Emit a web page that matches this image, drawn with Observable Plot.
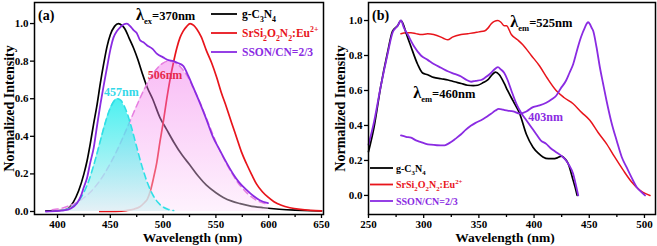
<!DOCTYPE html>
<html><head><meta charset="utf-8">
<script src="https://cdn.jsdelivr.net/npm/d3@7"></script>
<script src="https://cdn.jsdelivr.net/npm/@observablehq/plot@0.6"></script>
<style>
body{margin:0;background:#fff;}
#wrap{display:flex;width:657px;height:246px;overflow:hidden;}
</style></head><body><div id="wrap"></div>
<script>
// ---------- tick labels ----------
const aXTicks = [400, 450, 500, 550, 600, 650];
const aXMinor = [425, 475, 525, 575, 625];
const bXTicks = [250, 300, 350, 400, 450, 500];
const bXMinor = [275, 325, 375, 425, 475];
const yTicks = [0, 0.2, 0.4, 0.6, 0.8, 1.0];
const legendLabels = ["g-C_{3}N_{4}", "SrSi_{2}O_{2}N_{2}:Eu^{2+}", "SSON/CN=2/3"];
const seriesColors = ["#000000", "#e8141b", "#8a2be2"];

// ---------- panel (a): emission spectra, lambda_ex = 370 nm ----------
const aCN = [[389,0.004],[400,0.005],[406,0.008],[410,0.016],[415,0.05],[420,0.11],[425,0.2],[428,0.27],[431,0.36],[434,0.46],[437.5,0.57],[440.5,0.68],[443.7,0.785],[447,0.88],[450,0.94],[454,0.985],[457.8,1.0],[461,0.99],[464,0.97],[468,0.92],[472,0.87],[476,0.81],[480,0.74],[485,0.66],[490,0.6],[497,0.5],[503,0.44],[510,0.37],[518,0.3],[525,0.25],[533,0.19],[541,0.14],[550,0.1],[557,0.075],[565,0.055],[573,0.042],[582,0.03],[595,0.02],[610,0.012],[625,0.007],[640,0.004],[650,0.003]];
const aSSON = [[440,0.0],[455,0.001],[465,0.005],[472,0.012],[478,0.025],[482,0.045],[485,0.065],[488,0.11],[491,0.18],[494,0.26],[497,0.37],[500,0.47],[503.5,0.6],[506.5,0.7],[509.7,0.79],[513,0.87],[516,0.925],[519,0.96],[522.4,0.985],[525.5,1.0],[529,0.99],[532,0.97],[536,0.93],[541,0.856],[546,0.79],[550.7,0.714],[555,0.635],[560,0.555],[565,0.47],[569.5,0.395],[574,0.32],[579,0.254],[584,0.195],[588.4,0.147],[594,0.105],[599.4,0.076],[605,0.052],[612,0.033],[620,0.02],[630,0.011],[640,0.006],[650,0.003]];
const aMix = [[389,0.0],[400,0.003],[406,0.006],[412,0.015],[418.6,0.045],[422,0.08],[425,0.13],[428,0.18],[431,0.26],[434.3,0.34],[437,0.44],[440.6,0.57],[443.7,0.67],[446.9,0.767],[450,0.86],[453,0.925],[456.3,0.96],[459.4,0.98],[462.5,0.995],[465.7,1.0],[469,0.985],[472,0.965],[475,0.95],[478.3,0.91],[481.4,0.9],[484.6,0.885],[490,0.865],[494,0.84],[500,0.82],[505,0.805],[509.7,0.8],[514,0.79],[519,0.775],[524,0.72],[528.6,0.66],[535,0.575],[541,0.49],[547,0.4],[553.8,0.325],[560,0.26],[566.3,0.2],[572,0.155],[579,0.115],[585,0.085],[591.5,0.06],[599.4,0.045]];
// fitted component peaks (dashed)
const aPeak457 = [[405,0.006],[410,0.013],[415,0.028],[420,0.056],[425,0.102],[430,0.17],[435,0.26],[440,0.364],[445,0.468],[450,0.551],[455,0.596],[457,0.6],[460,0.591],[465,0.537],[470,0.448],[475,0.343],[480,0.24],[485,0.155],[490,0.091],[495,0.049],[500,0.024],[505,0.011],[510,0.005]];
const aPeak506 = [[395,0.009],[400,0.013],[405,0.019],[410,0.028],[415,0.039],[420,0.054],[425,0.073],[430,0.097],[435,0.127],[440,0.163],[445,0.206],[450,0.255],[455,0.309],[460,0.369],[465,0.433],[470,0.498],[475,0.563],[480,0.625],[485,0.681],[490,0.729],[495,0.765],[500,0.79],[505,0.8],[510,0.795],[515,0.777],[520,0.745],[525,0.7],[530,0.64],[535,0.58],[540,0.51],[545,0.44],[550,0.37],[555,0.31],[560,0.255],[565,0.205],[570,0.16],[575,0.125],[580,0.095],[585,0.072],[590,0.055],[595,0.045],[600,0.04]];

// ---------- panel (b): excitation spectra ----------
const bCN = [[250,0.25],[255,0.39],[261,0.62],[267,0.81],[271.8,0.94],[276.4,0.97],[279.4,1.0],[282,0.97],[284,0.93],[288.5,0.85],[294.5,0.75],[299,0.7],[303.6,0.69],[309,0.675],[315.7,0.667],[322,0.66],[327.8,0.65],[334,0.64],[339.7,0.63],[345,0.628],[349,0.63],[354,0.645],[358,0.66],[362,0.69],[365,0.705],[368.5,0.69],[373,0.64],[376,0.6],[381,0.54],[387,0.467],[393,0.35],[399,0.276],[404,0.24],[408,0.22],[413,0.21],[417,0.21],[421,0.215],[424.8,0.225],[428,0.21],[431,0.18],[433.5,0.13],[435.4,0.086],[437.5,0.04],[439,0.0]];
const bSSON = [[279.4,0.924],[284,0.93],[288.5,0.93],[293,0.925],[298,0.92],[303.6,0.924],[309,0.92],[315.7,0.905],[319,0.895],[321.8,0.89],[326,0.905],[333.9,0.92],[340,0.925],[346,0.93],[350,0.935],[355,0.94],[358,0.955],[361,0.98],[364,0.995],[367.2,1.0],[370,0.99],[373,0.97],[375,0.97],[379.4,0.92],[385,0.89],[390,0.86],[397.5,0.8],[405,0.74],[412,0.67],[420,0.6],[427,0.56],[435.4,0.524],[443,0.475],[450.5,0.43],[458,0.36],[465.7,0.295],[473,0.22],[480.9,0.143],[488,0.08],[496,0.029],[501,0.01],[505,0.0]];
const bMix460 = [[250,0.29],[255,0.42],[261,0.62],[267,0.8],[271.8,0.93],[276.4,0.97],[279.4,1.0],[282,0.96],[285.5,0.92],[291.5,0.85],[297.5,0.8],[303.6,0.775],[309.6,0.75],[315.7,0.73],[321.8,0.71],[327.8,0.695],[333.9,0.68],[339,0.66],[343,0.65],[347,0.655],[352,0.66],[356,0.675],[361,0.7],[364,0.72],[367.2,0.733],[370,0.72],[373,0.7],[376,0.66],[379.4,0.6],[384,0.524],[388.5,0.47],[393,0.43],[397.5,0.39],[402,0.35],[406,0.315],[411,0.295],[415,0.27],[420,0.247],[425,0.225],[429,0.2],[432,0.17],[435.4,0.124],[437.5,0.07],[440,0.0]];
const bMix525 = [[279.4,0.343],[284,0.335],[288.5,0.33],[293,0.315],[297.5,0.305],[302,0.295],[306.6,0.29],[312,0.287],[318.8,0.286],[322,0.295],[324.8,0.305],[329,0.325],[333.9,0.35],[338,0.375],[343,0.4],[347,0.415],[352,0.43],[356,0.445],[361,0.467],[365,0.485],[368,0.495],[372,0.49],[376,0.485],[381,0.48],[387,0.468],[393,0.48],[399,0.505],[405,0.515],[411,0.53],[416,0.55],[420,0.57],[424,0.61],[429,0.657],[432,0.7],[435.4,0.75],[438.5,0.82],[441.5,0.886],[444,0.93],[446,0.96],[448,0.985],[449,0.99],[450.5,0.98],[452,0.96],[453.6,0.94],[456.5,0.85],[459.6,0.733],[462.5,0.64],[465.7,0.54],[470,0.42],[474.8,0.314],[479.4,0.22],[483.9,0.16],[488.5,0.1],[493,0.047],[497,0.02],[500.5,0.0]];

// ---------- helpers ----------
const FONT = "'Liberation Serif','Times New Roman',serif";
function rich(sel, str, size) {
  const re = /([_^~])\{([^}]*)\}/g;
  const parts = []; let last = 0, m;
  while ((m = re.exec(str))) {
    if (m.index > last) parts.push({t: str.slice(last, m.index), k: ""});
    parts.push({t: m[2], k: m[1]}); last = re.lastIndex;
  }
  if (last < str.length) parts.push({t: str.slice(last), k: ""});
  let cur = 0;
  for (const p of parts) {
    const target = p.k === "_" ? size * 0.32 : p.k === "^" ? -size * 0.42 : 0;
    const ts = sel.append("tspan").text(p.t);
    if (target - cur !== 0) ts.attr("dy", target - cur);
    if (p.k === "_" || p.k === "^") ts.attr("font-size", size * 0.68);
    if (p.k === "~") ts.attr("font-size", size * 1.3);
    cur = target;
  }
}
function annotations(items, legend) {
  return (index, scales) => {
    const g = d3.create("svg:g").attr("font-family", FONT).attr("font-weight", "bold");
    for (const it of items) {
      const x = it.px != null ? it.px : scales.x(it.x);
      const y = it.py != null ? it.py : scales.y(it.y);
      const t = g.append("text").attr("x", x).attr("y", y)
        .attr("fill", it.color || "#000").attr("font-size", it.size)
        .attr("text-anchor", it.anchor || "start");
      rich(t, it.text, it.size);
    }
    if (legend) {
      legendLabels.forEach((lab, i) => {
        const y = legend.y0 + i * legend.dy;
        g.append("line").attr("x1", legend.x1).attr("x2", legend.x2).attr("y1", y).attr("y2", y)
          .attr("stroke", seriesColors[i]).attr("stroke-width", 1.8);
        const t = g.append("text").attr("x", legend.tx).attr("y", y + legend.size * 0.35)
          .attr("fill", seriesColors[i]).attr("font-size", legend.size)
          .attr("text-anchor", "start");
        rich(t, lab, legend.size);
      });
    }
    return g.node();
  };
}
function gradients() {
  const g = d3.create("svg:g");
  const defs = g.append("defs");
  const mk = (id, c1, c2) => {
    const lg = defs.append("linearGradient").attr("id", id).attr("x1", 0).attr("y1", 0).attr("x2", 0).attr("y2", 1);
    lg.append("stop").attr("offset", "0%").attr("stop-color", c1);
    lg.append("stop").attr("offset", "100%").attr("stop-color", c2);
  };
  mk("gradPink", "#f060e8", "#fde0fb");
  mk("gradCyan", "#10ecec", "#dcf0f4");
  return g.node();
}
const fmt = d3.format(".1f");
const X = d => d[0], Y = d => d[1];
function axes(major, minor) {
  return [
    Plot.axisX({ticks: major, tickSize: 4, tickPadding: 2, strokeWidth: 1.3, fontSize: 11, label: null}),
    Plot.axisX({ticks: minor, tickSize: 3, strokeWidth: 1.3, tickFormat: () => "", label: null}),
    Plot.axisY({ticks: yTicks, tickSize: 4, tickPadding: 2, strokeWidth: 1.3, tickFormat: fmt, fontSize: 11, label: null}),
    Plot.frame({stroke: "#000", strokeWidth: 1.5})
  ];
}
function titles(dxX, dxY) {
  return [
    Plot.text(["Wavelength (nm)"], {frameAnchor: "bottom", dy: 23, dx: dxX, lineAnchor: "middle", textAnchor: "middle", fontSize: 13.5, fontWeight: "bold", fill: "#000"}),
    Plot.text(["Normalized Intensity"], {frameAnchor: "left", dx: dxY, rotate: -90, lineAnchor: "middle", textAnchor: "middle", fontSize: 14, fontWeight: "bold", fill: "#000"})
  ];
}
const style = `font-family:${FONT};font-weight:bold;font-size:11px;color:#000;background:#fff;overflow:visible;`;

// ---------- panel (a) ----------
const plotA = Plot.plot({
  width: 330, height: 246,
  marginLeft: 34, marginRight: 7, marginTop: 2, marginBottom: 32,
  style,
  x: {domain: [378.2, 651.9], label: null},
  y: {domain: [-0.016, 1.112], label: null},
  marks: [
    gradients,
    Plot.line(aCN, {x: X, y: Y, stroke: seriesColors[0], strokeWidth: 1.7, curve: "monotone-x"}),
    Plot.line(aSSON, {x: X, y: Y, stroke: seriesColors[1], strokeWidth: 1.7, curve: "monotone-x"}),
    Plot.areaY(aPeak506, {x: X, y: Y, fill: "url(#gradPink)", fillOpacity: 0.42, curve: "monotone-x"}),
    Plot.line(aPeak506, {x: X, y: Y, stroke: "#e67fe0", strokeWidth: 1.5, strokeDasharray: "6,4", curve: "monotone-x"}),
    Plot.areaY(aPeak457, {x: X, y: Y, fill: "url(#gradCyan)", fillOpacity: 0.75, curve: "monotone-x"}),
    Plot.line(aPeak457, {x: X, y: Y, stroke: "#30dfe6", strokeWidth: 1.6, strokeDasharray: "6,4", curve: "monotone-x"}),
    Plot.line(aMix, {x: X, y: Y, stroke: seriesColors[2], strokeWidth: 1.8, curve: "monotone-x"}),
    ...axes(aXTicks, aXMinor),
    ...titles(13.5, -25),
    annotations([
      {px: 38, py: 20, text: "(a)", size: 14},
      {px: 136, py: 20, text: "~{λ}_{ex}=370nm", size: 12.5},
      {x: 502.3, y: 0.70, text: "506nm", size: 12, color: "#e6284e", anchor: "middle"},
      {x: 461, y: 0.61, text: "457nm", size: 12, color: "#33d8e8", anchor: "middle"}
    ], {x1: 211, x2: 237, tx: 242, y0: 14, dy: 19, size: 11.5})
  ]
});

// ---------- panel (b) ----------
const plotB = Plot.plot({
  width: 327, height: 246,
  marginLeft: 38, marginRight: 2, marginTop: 2, marginBottom: 32,
  style,
  x: {domain: [250, 510], label: null},
  y: {domain: [-0.109, 1.103], label: null},
  marks: [
    Plot.line(bSSON, {x: X, y: Y, stroke: seriesColors[1], strokeWidth: 1.5, curve: "monotone-x"}),
    Plot.line(bCN, {x: X, y: Y, stroke: seriesColors[0], strokeWidth: 1.7, curve: "monotone-x"}),
    Plot.line(bMix460, {x: X, y: Y, stroke: seriesColors[2], strokeWidth: 1.8, curve: "monotone-x"}),
    Plot.line(bMix525, {x: X, y: Y, stroke: seriesColors[2], strokeWidth: 1.8, curve: "monotone-x"}),
    ...axes(bXTicks, bXMinor),
    ...titles(-7, -28),
    annotations([
      {px: 42, py: 20, text: "(b)", size: 14},
      {x: 291, y: 0.555, text: "~{λ}_{em}=460nm", size: 12.5},
      {x: 378.9, y: 0.96, text: "~{λ}_{em}=525nm", size: 12.5},
      {x: 395.2, y: 0.42, text: "403nm", size: 12, color: "#8a2be2"}
    ], {x1: 40, x2: 63, tx: 66, y0: 168, dy: 16.5, size: 10})
  ]
});

const wrap = document.getElementById("wrap");
wrap.appendChild(plotA);
wrap.appendChild(plotB);
</script></body></html>
